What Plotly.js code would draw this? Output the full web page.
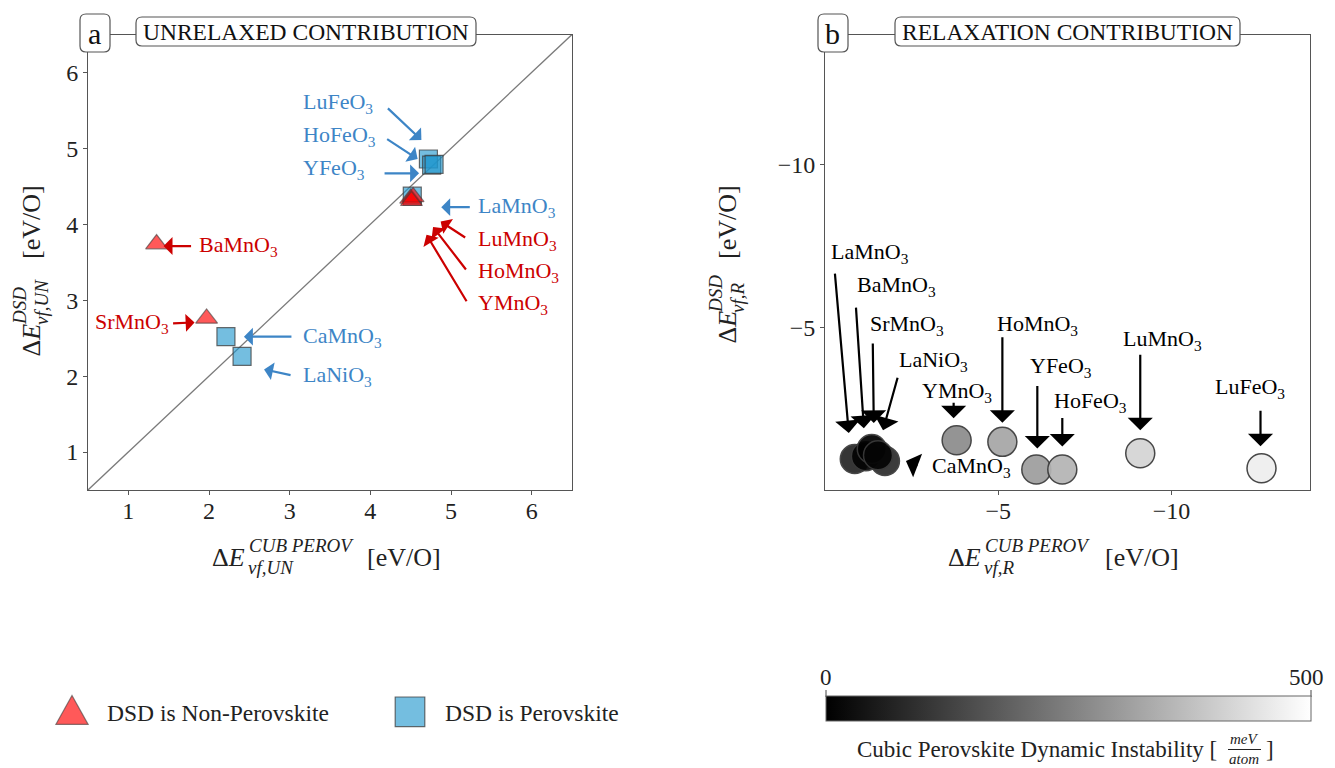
<!DOCTYPE html>
<html><head><meta charset="utf-8">
<script src="https://cdn.plot.ly/plotly-3.0.1.min.js"></script>
<style>html,body{margin:0;padding:0;background:#fff;} #chart{width:1335px;height:768px;}</style>
</head><body><div id="chart"></div>
<script>
// ---------- Panel a : unrelaxed contribution ----------
const compoundsA = ['LaMnO3','CaMnO3','LaNiO3','LuFeO3','HoFeO3','YFeO3','BaMnO3','SrMnO3','LuMnO3','HoMnO3','YMnO3'];
const cubPerovUN = [4.52, 2.21, 2.41, 4.72, 4.76, 4.79, 1.35, 1.97, 4.50, 4.53, 4.51];
const dsdUN      = [4.37, 2.52, 2.26, 4.86, 4.78, 4.79, 3.74, 2.76, 4.34, 4.36, 4.31];
const dsdIsPerovskite = [true, true, true, true, true, true, false, false, false, false, false];
const legendNames = ['DSD is Non-Perovskite', 'DSD is Perovskite'];
const ticksA = [1, 2, 3, 4, 5, 6];

// ---------- Panel b : relaxation contribution ----------
const compoundsB = ['LaMnO3','CaMnO3','BaMnO3','SrMnO3','LaNiO3','YMnO3','HoMnO3','YFeO3','HoFeO3','LuMnO3','LuFeO3'];
const cubPerovR  = [-0.86, -1.73, -1.18, -1.35, -1.53, -3.80, -5.12, -6.10, -6.85, -9.10, -12.60];
const dsdR       = [-0.95, -0.89, -1.04, -1.26, -1.07, -1.53, -1.48, -0.63, -0.63, -1.13, -0.67];
const instability = [75, 90, 5, 0, 10, 275, 325, 310, 353, 416, 467];   // meV/atom
const ticksB = [-5, -10];
const colorbarTicks = [0, 500];

// ---------- layout helpers (pixels -> paper) ----------
const W = 1335, H = 768;
const PX = v => v / W, PY = v => 1 - v / H;
const FONT = 'Liberation Serif';
const BLUE = '#3d85c6', RED = '#cc0000';
const rangeA = [0.5, 6.5], rangeB = [0, -14];

function sub(c) { return c.replace(/(\d+)$/, '<sub>$1</sub>'); }

// label layout per compound : head / tail of arrow and text left-middle, px offsets from the point (y down)
const labA = {
  LuFeO3: {h:[-7,-19],  t:[-42,-52], txt:[-127,-56]},
  HoFeO3: {h:[-14,-6],  t:[-46,-27], txt:[-131,-29]},
  YFeO3:  {h:[-15,9],   t:[-51,9],   txt:[-133,5]},
  LaMnO3: {h:[29,11],   t:[59,11],   txt:[64,11]},
  LuMnO3: {h:[30,23],   t:[56,40],   txt:[65,42]},
  HoMnO3: {h:[20,30],   t:[54,74],   txt:[63,75]},
  YMnO3:  {h:[15,34],   t:[56,102],  txt:[65,103]},
  BaMnO3: {h:[7,2],     t:[36,2],    txt:[40,2]},
  SrMnO3: {h:[-12,4],   t:[-35,5],   txt:[-114,5]},
  CaMnO3: {h:[18,0],    t:[67,0],    txt:[75,0]},
  LaNiO3: {h:[22,13],   t:[50,19],   txt:[59,20]}
};
const labB = {
  LaMnO3: {h:[-6,-26],  t:[-20,-187], txt:[-26,-206]},
  BaMnO3: {h:[-2,-28],  t:[-10,-150], txt:[-11,-170]},
  SrMnO3: {h:[2,-26],   t:[1,-107],   txt:[-4,-124]},
  LaNiO3: {h:[5,-25],   t:[20,-79],   txt:[19,-94]},
  YMnO3:  {h:[-3,-22],  t:[-3,-39],   txt:[-37,-48]},
  HoMnO3: {h:[0,-19],   t:[0,-106],   txt:[-7,-117]},
  YFeO3:  {h:[1,-21],   t:[1,-85],    txt:[-8,-103]},
  HoFeO3: {h:[0,-23],   t:[0,-53],    txt:[-10,-68]},
  LuMnO3: {h:[0,-23],   t:[0,-100],   txt:[-19,-113]},
  LuFeO3: {h:[-1,-22],  t:[-1,-59],   txt:[-49,-80]},
  CaMnO3: {h:[21,0],    t:[34,5],     txt:[45,6]}
};

const annotations = [];
const shapes = [];

function addLabel(xref, yref, x, y, c, L, color, aw, as) {
  annotations.push({xref, yref, x, y, xshift: L.h[0], yshift: -L.h[1],
    ax: L.t[0]-L.h[0], ay: L.t[1]-L.h[1], axref:'pixel', ayref:'pixel',
    text:'', showarrow:true, arrowhead:1, arrowsize:as, arrowwidth:aw, arrowcolor:color});
  annotations.push({xref, yref, x, y, xshift: L.txt[0], yshift: -L.txt[1],
    xanchor:'left', yanchor:'middle', text: sub(c), showarrow:false,
    font:{family:FONT, size:22, color}});
}
compoundsA.forEach((c,i) => addLabel('x','y', cubPerovUN[i], dsdUN[i], c, labA[c],
  dsdIsPerovskite[i] ? BLUE : RED, 2.2, 1.35));
compoundsB.forEach((c,i) => addLabel('x2','y2', cubPerovR[i], dsdR[i], c, labB[c], '#000', 2.2, 1.9));

// diagonal y = x
shapes.push({type:'line', xref:'x', yref:'y', x0:rangeA[0], y0:rangeA[0], x1:rangeA[1], y1:rangeA[1],
  line:{color:'#7a7a7a', width:1.3}, layer:'below'});

// rounded title boxes
function rrect(x0,y0,x1,y1,r){
  const X=v=>PX(v).toFixed(5), Y=v=>PY(v).toFixed(5);
  return `M${X(x0+r)},${Y(y0)} L${X(x1-r)},${Y(y0)} Q${X(x1)},${Y(y0)} ${X(x1)},${Y(y0+r)} L${X(x1)},${Y(y1-r)} Q${X(x1)},${Y(y1)} ${X(x1-r)},${Y(y1)} L${X(x0+r)},${Y(y1)} Q${X(x0)},${Y(y1)} ${X(x0)},${Y(y1-r)} L${X(x0)},${Y(y0+r)} Q${X(x0)},${Y(y0)} ${X(x0+r)},${Y(y0)} Z`;
}
function titleBox(x0,y0,x1,y1,text,size){
  shapes.push({type:'path', xref:'paper', yref:'paper', path:rrect(x0,y0,x1,y1,6),
    fillcolor:'#fff', line:{color:'#555', width:1.2}, layer:'above'});
  annotations.push({xref:'paper', yref:'paper', x:PX((x0+x1)/2), y:PY((y0+y1)/2), text,
    showarrow:false, xanchor:'center', yanchor:'middle', font:{family:FONT, size, color:'#111'}});
}
titleBox(80,14,110,52,'a',30);
titleBox(136,17,476,46,'UNRELAXED CONTRIBUTION',23.5);
titleBox(818,14,848,52,'b',30);
titleBox(895,17,1240,46,'RELAXATION CONTRIBUTION',23.5);

// axis titles with stacked super/subscripts
function paperText(x, y, text, size, xa, ya, angle) {
  annotations.push({xref:'paper', yref:'paper', x:PX(x), y:PY(y), text, showarrow:false,
    xanchor:xa, yanchor:ya, textangle: angle||0, font:{family:FONT, size, color:'#222'}});
}
function xTitle(xE, xEnd, supT, subT) {
  paperText(xE, 557, 'Δ<i>E</i>', 26, 'right', 'middle');
  paperText(xE, 545, '<i>'+supT+'</i>', 19, 'left', 'middle');
  paperText(xE-1, 567, '<i>'+subT+'</i>', 19, 'left', 'middle');
  paperText(xEnd, 557, '[eV/O]', 26, 'right', 'middle');
}
function yTitle(xc, yE, supT, subT) {
  paperText(xc, yE, 'Δ<i>E</i>', 26, 'center', 'bottom', -90);
  paperText(xc-12, yE-31, '<i>'+supT+'</i>', 19, 'center', 'bottom', -90);
  paperText(xc+10, yE-31, '<i>'+subT+'</i>', 19, 'center', 'bottom', -90);
  paperText(xc, 183, '[eV/O]', 26, 'center', 'top', -90);
}
xTitle(247, 443, 'CUB PEROV', 'vf,UN');
xTitle(983, 1181, 'CUB PEROV', 'vf,R');
yTitle(31, 358, 'DSD', 'vf,UN');
yTitle(727, 346, 'DSD', 'vf,R');

// colorbar labels (drawn above the bar) and title
const cbX0 = 826, cbX1 = 1311, cbTop = 697;
colorbarTicks.forEach((v, k) => {
  const xp = cbX0 + (v - colorbarTicks[0]) / (colorbarTicks[colorbarTicks.length-1] - colorbarTicks[0]) * (cbX1 - cbX0);
  paperText(k === 0 ? xp : xp - 5, 677, String(v), 23, 'center', 'middle');
  shapes.push({type:'line', xref:'paper', yref:'paper', x0:PX(xp), x1:PX(xp), y0:PY(cbTop-7), y1:PY(cbTop),
    line:{color:'#444', width:1}});
});
paperText(1219, 749, 'Cubic Perovskite Dynamic Instability [', 23, 'right', 'middle');
paperText(1244, 739, '<i>meV</i>', 15, 'center', 'middle');
paperText(1244, 759, '<i>atom</i>', 15, 'center', 'middle');
shapes.push({type:'line', xref:'paper', yref:'paper', x0:PX(1228), x1:PX(1261), y0:PY(749.5), y1:PY(749.5),
  line:{color:'#222', width:1}});
paperText(1264, 749, ']', 23, 'left', 'middle');

// ---------- traces ----------
const pick = (arr, f) => arr.filter((_, i) => f(i));
const traces = [
  {type:'scatter', mode:'markers', xaxis:'x', yaxis:'y', name:legendNames[1], legendrank:2,
   x: pick(cubPerovUN, i => dsdIsPerovskite[i]), y: pick(dsdUN, i => dsdIsPerovskite[i]),
   text: pick(compoundsA, i => dsdIsPerovskite[i]), hoverinfo:'text',
   marker:{symbol:'square', size:18, color:'rgba(30,150,205,0.62)', line:{color:'rgba(60,60,60,0.75)', width:1.2}}},
  {type:'scatter', mode:'markers', xaxis:'x', yaxis:'y', name:legendNames[0], legendrank:1,
   x: pick(cubPerovUN, i => !dsdIsPerovskite[i]), y: pick(dsdUN, i => !dsdIsPerovskite[i]),
   text: pick(compoundsA, i => !dsdIsPerovskite[i]), hoverinfo:'text',
   marker:{symbol:'triangle-up', size:19, color:'rgba(255,0,0,0.65)', line:{color:'rgba(60,60,60,0.6)', width:1.2}}},
  {type:'scatter', mode:'markers', xaxis:'x2', yaxis:'y2', showlegend:false,
   x: cubPerovR, y: dsdR, text: compoundsB, hoverinfo:'text',
   marker:{size:29, color: instability, cmin: colorbarTicks[0], cmax: colorbarTicks[1],
     colorscale:[[0,'#000000'],[1,'#ffffff']], opacity:0.93,
     line:{color:'#3a3a3a', width:1.5},
     colorbar:{orientation:'h', x:PX((cbX0+cbX1)/2), xanchor:'center', y:PY(722), yanchor:'bottom',
       len:(cbX1-cbX0)/W, lenmode:'fraction', thickness:25, thicknessmode:'pixels',
       xpad:0, ypad:0, outlinewidth:1, outlinecolor:'#666', showticklabels:false, ticks:'',
       tickvals: colorbarTicks}}}
];

const axisCommon = {showgrid:false, zeroline:false, showline:true, mirror:true, linecolor:'#555', linewidth:1,
  ticks:'outside', ticklen:4, tickcolor:'#555', tickfont:{family:FONT, size:24, color:'#222'}};

const layout = {
  width:W, height:H, margin:{l:0, r:0, t:0, b:0}, paper_bgcolor:'#fff', plot_bgcolor:'#fff',
  font:{family:FONT, color:'#222'},
  showlegend:true,
  legend:{orientation:'h', x:PX(55), xanchor:'left', y:PY(712), yanchor:'middle',
    font:{family:FONT, size:23.5, color:'#222'}, entrywidth:293, entrywidthmode:'pixels', bgcolor:'rgba(0,0,0,0)'},
  xaxis: Object.assign({}, axisCommon, {domain:[PX(88), PX(572)], range:rangeA, tickvals:ticksA, anchor:'y'}),
  yaxis: Object.assign({}, axisCommon, {domain:[PY(490), PY(34.5)], range:rangeA, tickvals:ticksA, anchor:'x'}),
  xaxis2: Object.assign({}, axisCommon, {domain:[PX(825), PX(1310)], range:rangeB, tickvals:ticksB, anchor:'y2'}),
  yaxis2: Object.assign({}, axisCommon, {domain:[PY(490), PY(34.5)], range:rangeB, tickvals:ticksB, anchor:'x2'}),
  annotations, shapes
};

Plotly.newPlot('chart', traces, layout, {displayModeBar:false, staticPlot:true}).then(gd => {
  // larger legend symbols and wider symbol-to-text gap, as in the reference
  gd.querySelectorAll('.legend .traces').forEach(tr => {
    const p = tr.querySelector('.legendpoints path.scatterpts');
    const t = tr.querySelector('text.legendtext');
    if (t) t.setAttribute('x', 52);
    if (!p) return;
    const d = p.getAttribute('d') || '';
    const isTri = d.indexOf('V') === -1;
    p.setAttribute('transform', isTri ? 'translate(17,3) scale(1.75,2.4)' : 'translate(17,0) scale(1.85)');
    p.style.vectorEffect = 'non-scaling-stroke';
  });
  // bring x tick labels a little closer to the axis
  gd.querySelectorAll('.xtick text, .x2tick text').forEach(t => {
    t.setAttribute('transform', (t.getAttribute('transform') || '') + ' translate(0,-5)');
  });
});
</script>
</body></html>
